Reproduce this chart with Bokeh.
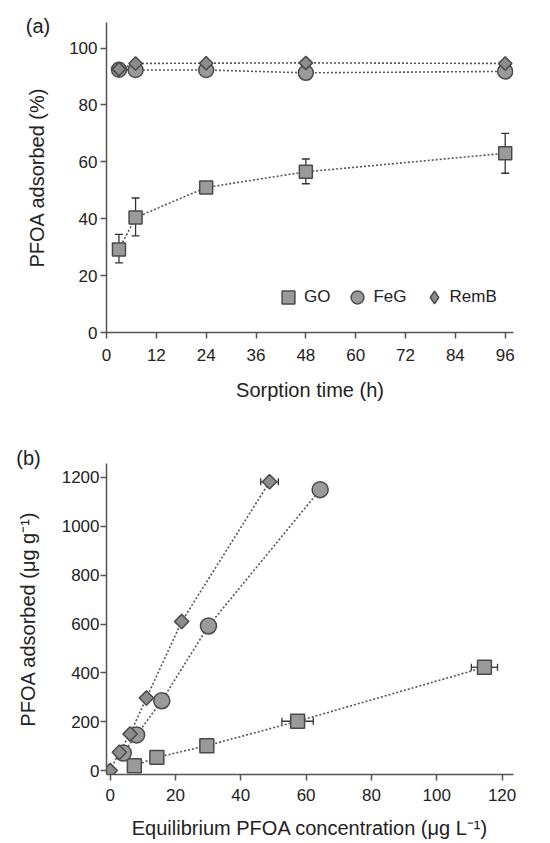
import math
from bokeh.plotting import figure
from bokeh.models import (ColumnDataSource, Whisker, Legend, LegendItem, Label,
                          Range1d, FixedTicker, TeeHead)
from bokeh.layouts import column
from bokeh.embed import file_html
from bokeh.resources import INLINE

# ---------------- data: panel (a) ----------------
time_h = [3, 7, 24, 48, 96]
go_pct = [29.2, 40.4, 51.0, 56.5, 63.0]
go_pct_low = [24.5, 34.0, 50.0, 52.3, 56.0]
go_pct_high = [34.5, 47.3, 52.0, 61.0, 70.0]
feg_pct = [92.4, 92.3, 92.3, 91.3, 91.8]
remb_pct = [92.6, 94.6, 94.7, 94.8, 94.6]
time_ticks = [0, 12, 24, 36, 48, 60, 72, 84, 96]
pct_ticks = [0, 20, 40, 60, 80, 100]

# ---------------- data: panel (b) ----------------
go_ce = [7.4, 14.3, 29.6, 57.4, 114.6]
go_qe = [20, 54, 102, 202, 423]
go_ce_err = [0, 0, 0, 4.8, 4.0]
feg_ce = [4.0, 8.1, 15.8, 30.1, 64.3]
feg_qe = [72, 146, 286, 592, 1150]
remb_ce = [0.0, 2.8, 6.1, 11.1, 21.9, 48.8]
remb_qe = [0, 75, 150, 297, 610, 1182]
remb_ce_err = [0, 0, 0, 0, 0, 2.7]
ce_ticks = [0, 20, 40, 60, 80, 100, 120]
qe_ticks = [0, 200, 400, 600, 800, 1000, 1200]

FONT = "Liberation Sans"
TXT = "#222222"
AX = "#555555"
FILL = "#9a9a9a"
DFILL = "#8c8c8c"
EDGE = "#4a4a4a"
LINE = "#555555"


def style_axis(ax, standoff, label_standoff):
    ax.axis_line_color = AX
    ax.axis_line_width = 1.5
    ax.major_tick_line_color = AX
    ax.major_tick_line_width = 1.5
    ax.major_tick_out = 6
    ax.major_tick_in = 0
    ax.minor_tick_line_color = None
    ax.major_label_text_font = FONT
    ax.major_label_text_font_size = "17px"
    ax.major_label_text_color = TXT
    ax.major_label_standoff = standoff
    ax.axis_label_text_font = FONT
    ax.axis_label_text_font_size = "20px"
    ax.axis_label_text_font_style = "normal"
    ax.axis_label_text_color = TXT
    ax.axis_label_standoff = label_standoff


def base_fig(**kw):
    p = figure(output_backend="svg", toolbar_location=None, **kw)
    p.xgrid.visible = False
    p.ygrid.visible = False
    p.outline_line_color = None
    p.background_fill_color = "white"
    p.border_fill_color = "white"
    return p


def markers(p, x, y, kind, scale=1.0):
    if kind == "GO":
        return p.scatter(x, y, marker="square", size=13 * scale, fill_color=FILL,
                         line_color=EDGE, line_width=1.5)
    if kind == "FeG":
        return p.scatter(x, y, marker="circle", size=15 * scale, fill_color=FILL,
                         line_color=EDGE, line_width=1.5)
    return p.scatter(x, y, marker="square", angle=math.pi / 4, size=9.5 * scale,
                     fill_color=DFILL, line_color=EDGE, line_width=1.5)


# ---------------- panel (a) ----------------
pa = base_fig(width=550, height=410, x_range=Range1d(0, 98), y_range=Range1d(0, 109),
              min_border_left=106, min_border_right=28, min_border_top=20,
              min_border_bottom=78)
pa.xaxis.ticker = FixedTicker(ticks=time_ticks)
pa.yaxis.ticker = FixedTicker(ticks=pct_ticks)
pa.xaxis.axis_label = "Sorption time (h)"
pa.yaxis.axis_label = "PFOA adsorbed (%)"
style_axis(pa.xaxis[0], 10, 15)
style_axis(pa.yaxis[0], 3, 18)

src_go_a = ColumnDataSource(dict(t=time_h, y=go_pct, lo=go_pct_low, hi=go_pct_high))
pa.add_layout(Whisker(source=src_go_a, base="t", lower="lo", upper="hi",
                      line_color="#333333", line_width=1.3,
                      upper_head=TeeHead(size=8, line_color="#333333", line_width=1.3),
                      lower_head=TeeHead(size=8, line_color="#333333", line_width=1.3)))

pa.line(time_h, go_pct, line_dash="2 2", line_width=1.6, line_color=LINE)
pa.line(time_h, feg_pct, line_dash="2 2", line_width=1.6, line_color=LINE)
pa.line(time_h, remb_pct, line_dash="2 2", line_width=1.6, line_color=LINE)

r_go = markers(pa, time_h, go_pct, "GO")
r_feg = markers(pa, time_h, feg_pct, "FeG")
# diamond-marker copy of RemB (hidden under the rotated squares) used as legend glyph,
# because Bokeh legends do not rotate markers
r_remb_leg = pa.scatter(time_h, remb_pct, marker="diamond", size=12, fill_color=DFILL,
                        line_color=EDGE, line_width=1.5)
markers(pa, time_h, remb_pct, "RemB")

legend = Legend(items=[LegendItem(label="GO", renderers=[r_go]),
                       LegendItem(label="FeG", renderers=[r_feg]),
                       LegendItem(label="RemB", renderers=[r_remb_leg])],
                orientation="horizontal", location=(166, 19),
                glyph_width=32, glyph_height=32, label_standoff=-2, spacing=11,
                padding=0, margin=0, border_line_color=None,
                background_fill_alpha=0, label_text_font=FONT,
                label_text_font_size="17px", label_text_color=TXT)
pa.add_layout(legend, "center")

pa.add_layout(Label(x=-68.5, y=-3.5, x_units="screen", y_units="screen", text="(a)",
                    text_font=FONT, text_font_size="20px", text_color=TXT,
                    text_align="center", text_baseline="middle"), "above")

# ---------------- panel (b) ----------------
pb = base_fig(width=550, height=433, x_range=Range1d(-1.12, 123.5),
              y_range=Range1d(-16, 1257),
              min_border_left=103, min_border_right=37, min_border_top=53,
              min_border_bottom=69)
pb.xaxis.ticker = FixedTicker(ticks=ce_ticks)
pb.yaxis.ticker = FixedTicker(ticks=qe_ticks)
pb.xaxis.axis_label = "Equilibrium PFOA concentration (\u03bcg L\u207b\u00b9)"
pb.yaxis.axis_label = "PFOA adsorbed (\u03bcg g\u207b\u00b9)"
style_axis(pb.xaxis[0], 8, 13)
style_axis(pb.yaxis[0], 1, 20)

go_err = [(x, y, e) for x, y, e in zip(go_ce, go_qe, go_ce_err) if e > 0]
remb_err = [(x, y, e) for x, y, e in zip(remb_ce, remb_qe, remb_ce_err) if e > 0]
for rows in (go_err, remb_err):
    src = ColumnDataSource(dict(y=[r[1] for r in rows],
                                lo=[r[0] - r[2] for r in rows],
                                hi=[r[0] + r[2] for r in rows]))
    pb.add_layout(Whisker(source=src, base="y", lower="lo", upper="hi", dimension="width",
                          line_color="#333333", line_width=1.3,
                          upper_head=TeeHead(size=7, line_color="#333333", line_width=1.3),
                          lower_head=TeeHead(size=7, line_color="#333333", line_width=1.3)))

pb.line(go_ce, go_qe, line_dash="2 2", line_width=1.6, line_color=LINE)
pb.line(feg_ce, feg_qe, line_dash="2 2", line_width=1.6, line_color=LINE)
pb.line(remb_ce, remb_qe, line_dash="2 2", line_width=1.6, line_color=LINE)

markers(pb, go_ce, go_qe, "GO", 1.07)
markers(pb, feg_ce, feg_qe, "FeG", 1.07)
markers(pb, remb_ce, remb_qe, "RemB", 1.07)

pb.add_layout(Label(x=-78, y=6, x_units="screen", y_units="screen", text="(b)",
                    text_font=FONT, text_font_size="20px", text_color=TXT,
                    text_align="center", text_baseline="middle"), "above")

layout = column(pa, pb, spacing=0)
open("out.html", "w").write(file_html(layout, INLINE))
